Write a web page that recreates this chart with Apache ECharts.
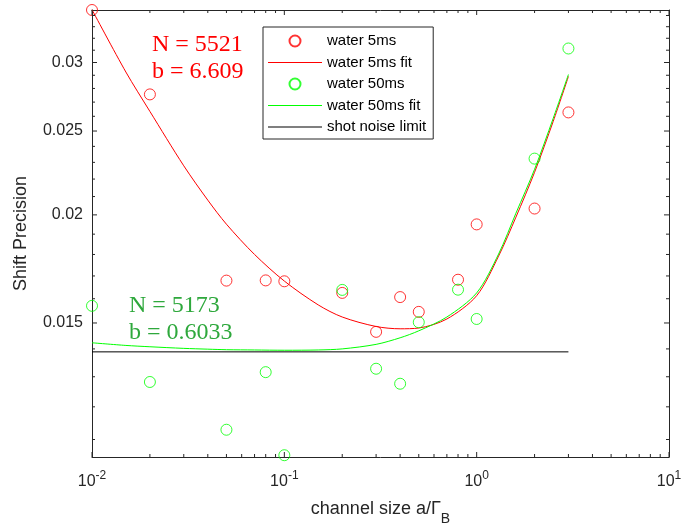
<!DOCTYPE html>
<html><head><meta charset="utf-8">
<script src="https://cdn.jsdelivr.net/npm/echarts@6/dist/echarts.min.js"></script>
<style>html,body{margin:0;padding:0;background:#fff}#c{width:683px;height:527px}</style>
</head><body><div id="c"></div>
<script>
// ---- data ----
const channelSizes = [0.01, 0.02, 0.05, 0.08, 0.1, 0.2, 0.3, 0.4, 0.5, 0.8, 1, 2, 3];
const water5ms  = [0.0345, 0.02756, 0.01679, 0.01680, 0.01676, 0.01625, 0.01465, 0.01607, 0.01545, 0.01683, 0.01950, 0.02034, 0.02627];
const water50ms = [0.01570, 0.01282, 0.01129, 0.01316, 0.01055, 0.01638, 0.01328, 0.01276, 0.01503, 0.01639, 0.01516, 0.02323, 0.03114];
const fitX = [0.01, 0.015, 0.02, 0.03, 0.04, 0.05, 0.07, 0.1, 0.15, 0.2, 0.3, 0.4, 0.5, 0.7, 1, 1.3, 1.6, 2, 2.5, 3];
const water5msFit  = [0.03453, 0.02925, 0.02634, 0.02279, 0.02080, 0.01951, 0.01800, 0.01677, 0.01574, 0.01524, 0.01486, 0.01477, 0.01480, 0.01516, 0.01613, 0.01792, 0.01988, 0.02240, 0.02565, 0.02891];
const water50msFit = [0.01423, 0.01413, 0.01408, 0.01402, 0.01399, 0.01397, 0.01396, 0.01395, 0.01396, 0.01400, 0.01417, 0.01442, 0.01469, 0.01524, 0.01625, 0.01802, 0.02009, 0.02258, 0.02586, 0.02906];
const shotNoiseX = [0.01, 3];
const shotNoiseY = [0.01389, 0.01389];
const xMajorTicks = [0.01, 0.1, 1, 10];
const xMinorTicks = [0.02,0.03,0.04,0.05,0.06,0.07,0.08,0.09,0.2,0.3,0.4,0.5,0.6,0.7,0.8,0.9,2,3,4,5,6,7,8,9];
const yMajorTicks = [0.015, 0.02, 0.025, 0.03];
const yMinorTicks = [0.011,0.012,0.013,0.014,0.016,0.017,0.018,0.019,0.021,0.022,0.023,0.024,0.026,0.027,0.028,0.029,0.031,0.032,0.033,0.034];
const legendNames = ['water 5ms', 'water 5ms fit', 'water 50ms', 'water 50ms fit', 'shot noise limit'];
const fit5Text = ['N = 5521', 'b = 6.609'];
const fit50Text = ['N = 5173', 'b = 0.6033'];

// ---- styles ----
const AX = '#262626';
const SANS = '"Liberation Sans", Arial, Helvetica, sans-serif';
const SERIF = '"Liberation Serif", "Times New Roman", serif';
const RED = '#ff0000', GREEN = '#00ff00', GREEN_TEXT = '#2ea83c';
const X_MIN = 0.01, X_MAX = 10, Y_MIN = 0.0105, Y_MAX = 0.0345;
const LINE_ICON = 'path://M0,0H54V1.2H0Z';

function baseAxis(type, pos, min, max) {
  return {
    type: type, logBase: 10, min: min, max: max, position: pos, gridIndex: 0,
    axisLine: {show: true, onZero: false, lineStyle: {color: AX, width: 1}},
    axisTick: {show: false},
    axisLabel: {show: false},
    splitLine: {show: false}, minorTick: {show: false}, minorSplitLine: {show: false}
  };
}
const xMain = baseAxis('log', 'bottom', X_MIN, X_MAX);
xMain.axisLabel = {
  show: true, customValues: xMajorTicks, margin: 15,
  formatter: v => '{b|10}{s|' + Math.round(Math.log10(v)) + '}',
  rich: {
    b: {fontSize: 16, fontFamily: SANS, color: AX, verticalAlign: 'bottom', lineHeight: 18},
    s: {fontSize: 12, fontFamily: SANS, color: AX, verticalAlign: 'bottom', lineHeight: 13, padding: [0, 0, 8, 0]}
  }
};
xMain.name = '{a|channel size a/Γ}{s|B}';
xMain.nameLocation = 'middle';
xMain.nameGap = 43;
xMain.nameTextStyle = {
  rich: {
    a: {fontSize: 18, fontFamily: SANS, color: AX, verticalAlign: 'top', lineHeight: 20},
    s: {fontSize: 14, fontFamily: SANS, color: AX, verticalAlign: 'top', lineHeight: 16, padding: [12, 0, 0, 0]}
  }
};
const yMain = baseAxis('log', 'left', Y_MIN, Y_MAX);
yMain.axisLabel = {
  show: true, customValues: yMajorTicks, margin: 9, fontSize: 16, fontFamily: SANS, color: AX,
  formatter: v => String(Number(Number(v).toFixed(4)))
};
yMain.name = 'Shift Precision';
yMain.nameLocation = 'middle';
yMain.nameGap = 62;
yMain.nameRotate = 90;
yMain.nameTextStyle = {fontSize: 18, fontFamily: SANS, color: AX};

// inward tick marks on all four sides, placed through the axes' own scales
function tickMarks(values, side, len) {
  const isX = side === 'bottom' || side === 'top';
  const at = {bottom: Y_MIN, top: Y_MAX, left: X_MIN, right: X_MAX}[side];
  const off = {bottom: [0, -len / 2], top: [0, len / 2], left: [len / 2, 0], right: [-len / 2, 0]}[side];
  return {
    type: 'scatter', silent: true, clip: false, z: 6, animation: false,
    data: values.map(v => isX ? [v, at] : [at, v]),
    symbol: 'rect', symbolSize: isX ? [1, len] : [len, 1], symbolOffset: off,
    itemStyle: {color: AX, borderWidth: 0, opacity: 1},
    emphasis: {disabled: true}, tooltip: {show: false}
  };
}

const chart = echarts.init(document.getElementById('c'), null, {renderer: 'canvas'});
chart.setOption({
  backgroundColor: '#fff',
  animation: false,
  grid: {left: 92, right: 14, top: 10, bottom: 70, containLabel: false, outerBoundsMode: 'none'},
  xAxis: [xMain, baseAxis('log', 'top', X_MIN, X_MAX)],
  yAxis: [yMain, baseAxis('log', 'right', Y_MIN, Y_MAX)],
  legend: {
    orient: 'vertical', left: 263, top: 27,
    data: [
      {name: legendNames[0]},
      {name: legendNames[1], icon: LINE_ICON},
      {name: legendNames[2]},
      {name: legendNames[3], icon: LINE_ICON},
      {name: legendNames[4], icon: LINE_ICON}
    ],
    itemWidth: 54, itemHeight: 11, itemGap: 5.5,
    padding: [6, 7, 4, 5],
    borderColor: AX, borderWidth: 1, backgroundColor: '#fff',
    selectedMode: false,
    textStyle: {fontSize: 15, color: '#000', fontFamily: SANS, lineHeight: 16}
  },
  series: [
    {name: legendNames[0], type: 'scatter', clip: false, z: 4,
     data: channelSizes.map((x, i) => [x, water5ms[i]]),
     symbol: 'circle', symbolSize: 11,
     itemStyle: {color: 'rgba(255,255,255,0)', borderColor: RED, borderWidth: 1}},
    {name: legendNames[1], type: 'line', clip: false, z: 3,
     data: fitX.map((x, i) => [x, water5msFit[i]]),
     symbol: 'none', smooth: 0.3,
     lineStyle: {color: RED, width: 1}, itemStyle: {color: RED}},
    {name: legendNames[2], type: 'scatter', clip: false, z: 4,
     data: channelSizes.map((x, i) => [x, water50ms[i]]),
     symbol: 'circle', symbolSize: 11,
     itemStyle: {color: 'rgba(255,255,255,0)', borderColor: GREEN, borderWidth: 1}},
    {name: legendNames[3], type: 'line', clip: false, z: 3,
     data: fitX.map((x, i) => [x, water50msFit[i]]),
     symbol: 'none', smooth: 0.3,
     lineStyle: {color: GREEN, width: 1}, itemStyle: {color: GREEN}},
    {name: legendNames[4], type: 'line', clip: false, z: 2,
     data: shotNoiseX.map((x, i) => [x, shotNoiseY[i]]),
     symbol: 'none',
     lineStyle: {color: '#000', width: 1}, itemStyle: {color: '#000'}},
    tickMarks(xMajorTicks, 'bottom', 5),
    tickMarks(xMinorTicks, 'bottom', 3),
    tickMarks(xMajorTicks, 'top', 5),
    tickMarks(xMinorTicks, 'top', 3),
    tickMarks(yMajorTicks, 'left', 5),
    tickMarks(yMinorTicks, 'left', 3),
    tickMarks(yMajorTicks, 'right', 5),
    tickMarks(yMinorTicks, 'right', 3)
  ],
  graphic: [
    {type: 'text', x: 152, y: 45, z: 10, style: {text: fit5Text[0], fill: RED, font: '24px ' + SERIF, verticalAlign: 'middle'}},
    {type: 'text', x: 152, y: 72, z: 10, style: {text: fit5Text[1], fill: RED, font: '24px ' + SERIF, verticalAlign: 'middle'}},
    {type: 'text', x: 129, y: 306, z: 10, style: {text: fit50Text[0], fill: GREEN_TEXT, font: '24px ' + SERIF, verticalAlign: 'middle'}},
    {type: 'text', x: 129, y: 333, z: 10, style: {text: fit50Text[1], fill: GREEN_TEXT, font: '24px ' + SERIF, verticalAlign: 'middle'}}
  ]
});
</script></body></html>
